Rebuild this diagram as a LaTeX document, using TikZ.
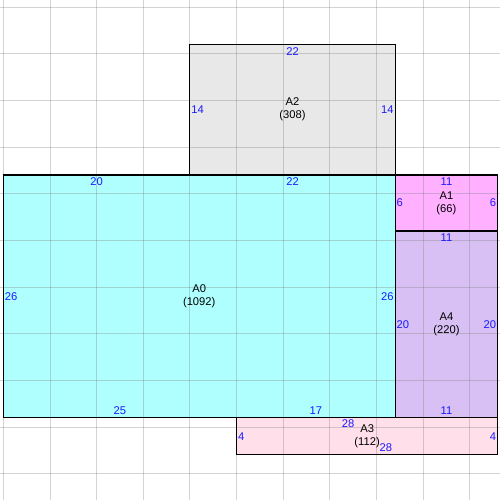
\documentclass[tikz,border=0pt]{standalone}
\usepackage{fontspec}
\setmainfont{Liberation Sans}
\usetikzlibrary{positioning}
\definecolor{dimblue}{RGB}{26, 26, 255}
\definecolor{areacyan}{RGB}{176, 255, 255}
\definecolor{areagray}{RGB}{232, 232, 232}
\definecolor{areapink}{RGB}{255, 176, 255}
\definecolor{arealilac}{RGB}{216, 192, 244}
\definecolor{arearose}{RGB}{255, 224, 234}
\tikzset{
  arealine/.style={draw=black, line width=0.85pt},
  gridline/.style={black!50, opacity=0.35, line width=0.6pt},
  dimlbl/.style={text=dimblue, font=\fontsize{8.4}{10}\selectfont, inner xsep=1pt, inner ysep=2pt},
  arealbl/.style={align=center, font=\fontsize{8.4}{9.8}\selectfont, inner sep=0pt}
}

\begin{document}
\begin{tikzpicture}[x=7pt, y=-7pt]
  \useasboundingbox (-0.354, -18.76) rectangle (53.24, 34.83);

  % Fills
  \fill[areacyan] (0, 0) rectangle (42, 26);
  \fill[areagray] (20, -14) rectangle (42, 0);
  \fill[areapink] (42, 0) rectangle (53, 6);
  \fill[arealilac] (42, 6) rectangle (53, 26);
  \fill[arearose] (25, 26) rectangle (53, 30);

  % Grid
  \foreach \gx in {0, 5, ..., 50}
    \draw[gridline] (\gx, -18.76) -- (\gx, 34.83);
  \foreach \gy in {-18, -13, ..., 32}
    \draw[gridline] (-0.354, \gy) -- (53.24, \gy);

  % Outlines
  \draw[arealine] (0, 0) rectangle (42, 26);
  \draw[arealine] (20, -14) rectangle (42, 0);
  \draw[arealine] (42, 0) rectangle (53, 6);
  \draw[arealine] (42, 6) rectangle (53, 26);
  \draw[arealine] (25, 26) rectangle (53, 30);

  % A0
  \node[arealbl] (a0) at (21, 13) {A0\\(1092)};
  \node[dimlbl, anchor=north] (a0top1) at (10, 0) {20};
  \node[dimlbl, anchor=north] (a0top2) at (31, 0) {22};
  \node[dimlbl, anchor=south] (a0bot1) at (12.5, 26) {25};
  \node[dimlbl, anchor=south] (a0bot2) at (33.5, 26) {17};
  \node[dimlbl, anchor=west] (a0left) at (0, 13) {26};
  \node[dimlbl, anchor=east] (a0right) at (42, 13) {26};

  % A2
  \node[arealbl] (a2) at (31, -7) {A2\\(308)};
  \node[dimlbl, anchor=north] (a2top) at (31, -14) {22};
  \node[dimlbl, anchor=west] (a2left) at (20, -7) {14};
  \node[dimlbl, anchor=east] (a2right) at (42, -7) {14};

  % A1
  \node[arealbl] (a1) at (47.5, 3) {A1\\(66)};
  \node[dimlbl, anchor=north] (a1top) at (47.5, 0) {11};
  \node[dimlbl, anchor=west] (a1left) at (42, 3) {6};
  \node[dimlbl, anchor=east] (a1right) at (53, 3) {6};

  % A4
  \node[arealbl] (a4) at (47.5, 16) {A4\\(220)};
  \node[dimlbl, anchor=north] (a4top) at (47.5, 6) {11};
  \node[dimlbl, anchor=south] (a4bot) at (47.5, 26) {11};
  \node[dimlbl, anchor=west] (a4left) at (42, 16) {20};
  \node[dimlbl, anchor=east] (a4right) at (53, 16) {20};

  % A3
  \node[arealbl] (a3) at (39, 28) {A3\\(112)};
  \node[dimlbl, inner sep=0pt] (a3top) at (36.95, 26.7) {28};
  \node[dimlbl, inner sep=0pt] (a3bot) at (41, 29.26) {28};
  \node[dimlbl, anchor=west] (a3left) at (25, 28) {4};
  \node[dimlbl, anchor=east] (a3right) at (53, 28) {4};
\end{tikzpicture}
\end{document}
